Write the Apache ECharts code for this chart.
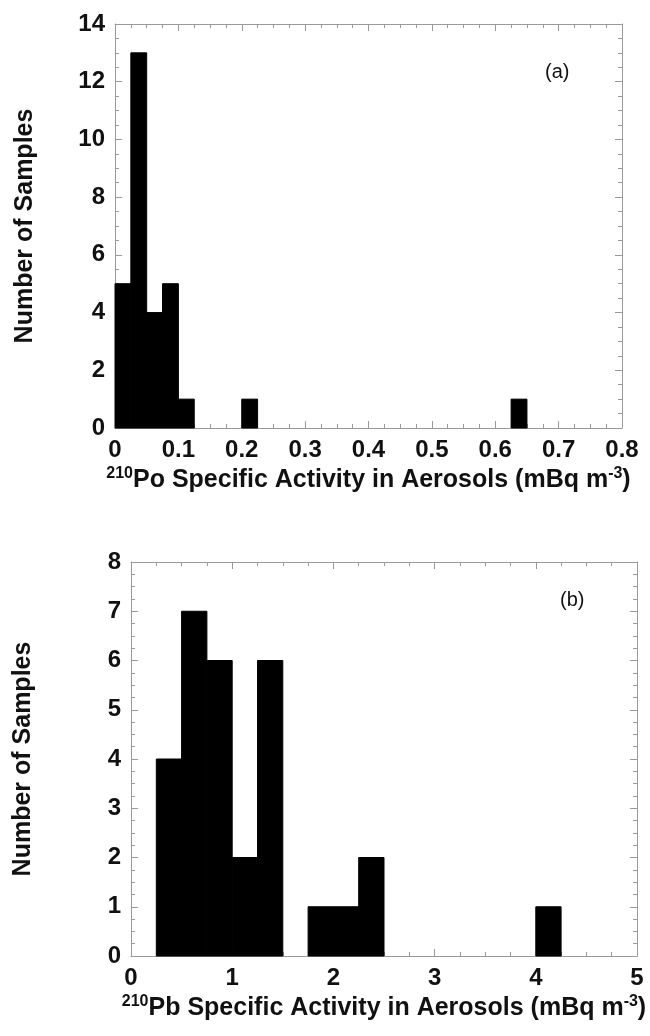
<!DOCTYPE html>
<html>
<head>
<meta charset="utf-8">
<script src="https://cdn.jsdelivr.net/npm/echarts@6/dist/echarts.min.js"></script>
<style>
  html, body { margin: 0; padding: 0; background: #fff; }
  #chart { width: 650px; height: 1036px; }
</style>
</head>
<body>
<div id="chart"></div>
<script>
// 210Po histogram: bin starts (mBq m-3), bin width and counts
const poBinStart = [0, 0.025, 0.05, 0.075, 0.1, 0.2, 0.625];
const poBinWidth = 0.025;
const poCounts = [5, 13, 4, 5, 1, 1, 1];

// 210Pb histogram
const pbBinStart = [0.25, 0.5, 0.75, 1.0, 1.25, 1.75, 2.0, 2.25, 4.0];
const pbBinWidth = 0.25;
const pbCounts = [4, 7, 6, 2, 6, 1, 1, 2, 1];

// axis ticks
const poXTicks = { min: 0, max: 0.8, interval: 0.1 };
const poYTicks = { min: 0, max: 14, interval: 2 };
const pbXTicks = { min: 0, max: 5, interval: 1 };
const pbYTicks = { min: 0, max: 8, interval: 1 };

const FONT = '"Liberation Sans", Arial, sans-serif';
const FRAME = '#9a9a9a';

function bins(starts, width, counts) {
  return starts.map((s, i) => [s, s + width, counts[i]]);
}

function renderBin(params, api) {
  const p0 = api.coord([api.value(0), 0]);
  const p1 = api.coord([api.value(1), api.value(2)]);
  return {
    type: 'rect',
    shape: { x: p0[0], y: p1[1], width: p1[0] - p0[0], height: p0[1] - p1[1] },
    style: { fill: '#000', stroke: '#000', lineWidth: 1 }
  };
}

const tickLabel = { fontFamily: FONT, fontWeight: 'bold', fontSize: 24, color: '#111' };

function axis(grid, ticks, position, withLabels, extra) {
  return Object.assign({
    gridIndex: grid,
    type: 'value',
    position: position,
    min: ticks.min, max: ticks.max, interval: ticks.interval,
    axisLine: { show: true, onZero: false, lineStyle: { color: FRAME, width: 1 } },
    axisTick: { show: true, inside: true, length: 7, lineStyle: { color: FRAME } },
    minorTick: { show: true, splitNumber: 4, length: 4, lineStyle: { color: FRAME } },
    splitLine: { show: false },
    axisLabel: withLabels ? Object.assign({ margin: 10 }, tickLabel) : { show: false }
  }, extra || {});
}

const titleRich = {
  t: { fontFamily: FONT, fontWeight: 'bold', fontSize: 25, color: '#111', lineHeight: 29 },
  sup: { fontFamily: FONT, fontWeight: 'bold', fontSize: 16, color: '#111', lineHeight: 15, verticalAlign: 'top' }
};

function xName(iso) {
  return '{sup|210}{t|' + iso + ' Specific Activity in Aerosols (mBq m}{sup|-3}{t|)}';
}

const yNameStyle = { fontFamily: FONT, fontWeight: 'bold', fontSize: 25, color: '#111' };

const chart = echarts.init(document.getElementById('chart'), null, { renderer: 'canvas' });

chart.setOption({
  animation: false,
  backgroundColor: '#fff',
  grid: [
    { left: 115, top: 24, width: 507, height: 404, outerBoundsMode: 'none', containLabel: false },
    { left: 131, top: 562, width: 506, height: 394, outerBoundsMode: 'none', containLabel: false }
  ],
  xAxis: [
    axis(0, poXTicks, 'bottom', true, {
      name: xName('Po'), nameLocation: 'middle', nameGap: 38,
      nameTextStyle: { rich: titleRich },
      axisLabel: Object.assign({ margin: 10, formatter: v => v === 0 ? '0' : v.toFixed(1) }, tickLabel)
    }),
    axis(0, poXTicks, 'top', false),
    axis(1, pbXTicks, 'bottom', true, {
      name: xName('Pb'), nameLocation: 'middle', nameGap: 38,
      nameTextStyle: { rich: titleRich }
    }),
    axis(1, pbXTicks, 'top', false)
  ],
  yAxis: [
    axis(0, poYTicks, 'left', true, {
      name: 'Number of Samples', nameLocation: 'middle', nameGap: 77, nameTextStyle: yNameStyle
    }),
    axis(0, poYTicks, 'right', false),
    axis(1, pbYTicks, 'left', true, {
      name: 'Number of Samples', nameLocation: 'middle', nameGap: 95, nameTextStyle: yNameStyle
    }),
    axis(1, pbYTicks, 'right', false)
  ],
  series: [
    {
      type: 'custom', xAxisIndex: 0, yAxisIndex: 0,
      renderItem: renderBin, encode: { x: [0, 1], y: 2 },
      data: bins(poBinStart, poBinWidth, poCounts)
    },
    {
      type: 'custom', xAxisIndex: 2, yAxisIndex: 2,
      renderItem: renderBin, encode: { x: [0, 1], y: 2 },
      data: bins(pbBinStart, pbBinWidth, pbCounts)
    }
  ],
  graphic: [
    { type: 'text', left: 545, top: 62,
      style: { text: '(a)', fontFamily: FONT, fontSize: 20, fill: '#111' } },
    { type: 'text', left: 560, top: 590,
      style: { text: '(b)', fontFamily: FONT, fontSize: 20, fill: '#111' } }
  ]
});
</script>
</body>
</html>
